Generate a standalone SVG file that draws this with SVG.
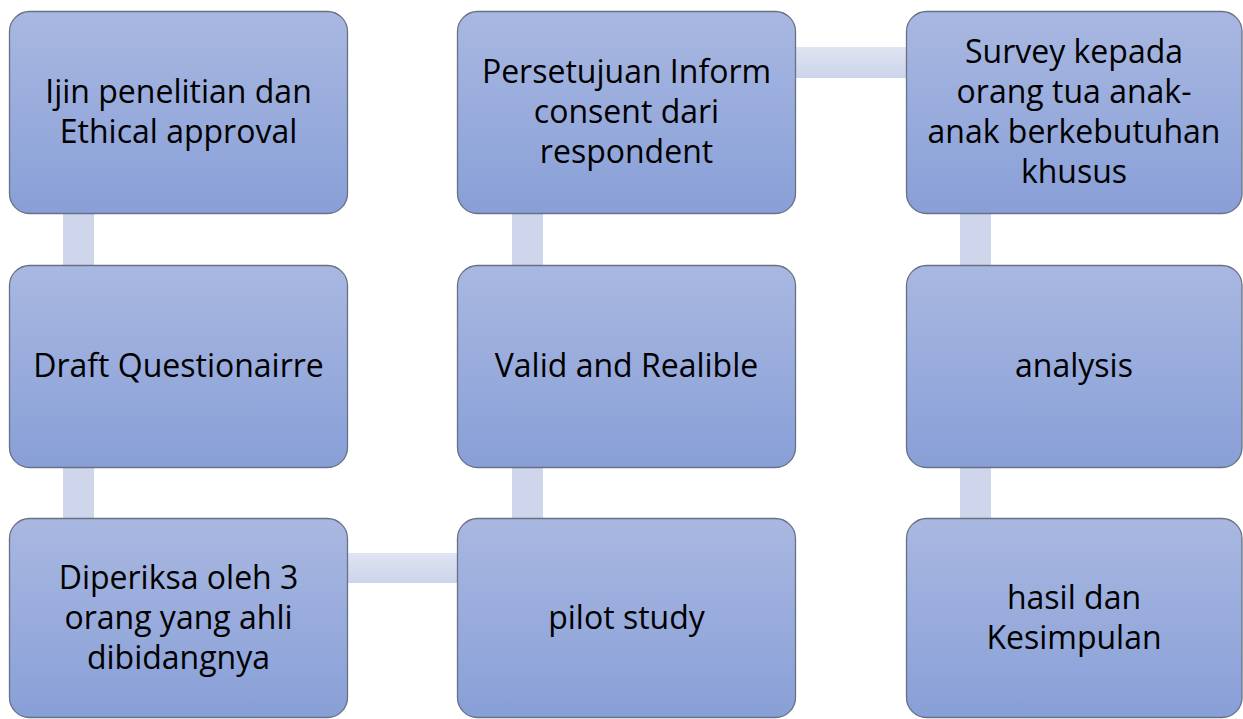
<svg xmlns="http://www.w3.org/2000/svg" width="1243" height="719" viewBox="0 0 1243 719">
<defs>
<linearGradient id="boxg" x1="0" y1="0" x2="0" y2="1">
<stop offset="0" stop-color="#a9b8e1"/>
<stop offset="1" stop-color="#889fd7"/>
</linearGradient>
<linearGradient id="hg" x1="0" y1="0" x2="0" y2="1">
<stop offset="0" stop-color="#dfe4f2"/>
<stop offset="1" stop-color="#cdd4ea"/>
</linearGradient>
<style>
.box{fill:url(#boxg);stroke:#687086;stroke-width:1.3}
.vc{fill:#cfd5ea}
.hc{fill:url(#hg)}
text{font-family:"Open Sans","Liberation Sans",sans-serif;font-size:32px;fill:#000;text-anchor:middle}
</style>
</defs>
<rect width="1243" height="719" fill="#fff"/>
<g id="connectors">
<rect class="vc" x="63" y="212" width="31" height="54"/>
<rect class="vc" x="63" y="466" width="31" height="53"/>
<rect class="hc" x="347" y="553" width="111" height="30"/>
<rect class="vc" x="512" y="466" width="31" height="53"/>
<rect class="vc" x="512" y="212" width="31" height="54"/>
<rect class="hc" x="795" y="47" width="112" height="31"/>
<rect class="vc" x="960" y="212" width="31" height="53"/>
<rect class="vc" x="960" y="466" width="31" height="53"/>
</g>
<g id="n1"><rect class="box" x="9.5" y="11.5" width="338" height="202" rx="20"/>
<text x="178.5" y="103">Ijin penelitian dan</text><text x="178.5" y="143">Ethical approval</text></g>
<g id="n2"><rect class="box" x="9.5" y="265.5" width="338" height="202" rx="20"/>
<text x="178.5" y="377">Draft Questionairre</text></g>
<g id="n3"><rect class="box" x="9.5" y="518.5" width="338" height="199" rx="20"/>
<text x="178.5" y="589">Diperiksa oleh 3</text><text x="178.5" y="629">orang yang ahli</text><text x="178.5" y="669">dibidangnya</text></g>
<g id="n4"><rect class="box" x="457.5" y="518.5" width="338" height="199" rx="20"/>
<text x="626.5" y="629">pilot study</text></g>
<g id="n5"><rect class="box" x="457.5" y="265.5" width="338" height="202" rx="20"/>
<text x="626.5" y="377">Valid and Realible</text></g>
<g id="n6"><rect class="box" x="457.5" y="11.5" width="338" height="202" rx="20"/>
<text x="626.5" y="83">Persetujuan Inform</text><text x="626.5" y="123">consent dari</text><text x="626.5" y="163">respondent</text></g>
<g id="n7"><rect class="box" x="906.5" y="11.5" width="335.5" height="202" rx="20"/>
<text x="1074" y="63">Survey kepada</text><text x="1074" y="103">orang tua anak-</text><text x="1074" y="143">anak berkebutuhan</text><text x="1074" y="183">khusus</text></g>
<g id="n8"><rect class="box" x="906.5" y="265.5" width="335.5" height="202" rx="20"/>
<text x="1074" y="377">analysis</text></g>
<g id="n9"><rect class="box" x="906.5" y="518.5" width="335.5" height="199" rx="20"/>
<text x="1074" y="609">hasil dan</text><text x="1074" y="649">Kesimpulan</text></g>
</svg>
